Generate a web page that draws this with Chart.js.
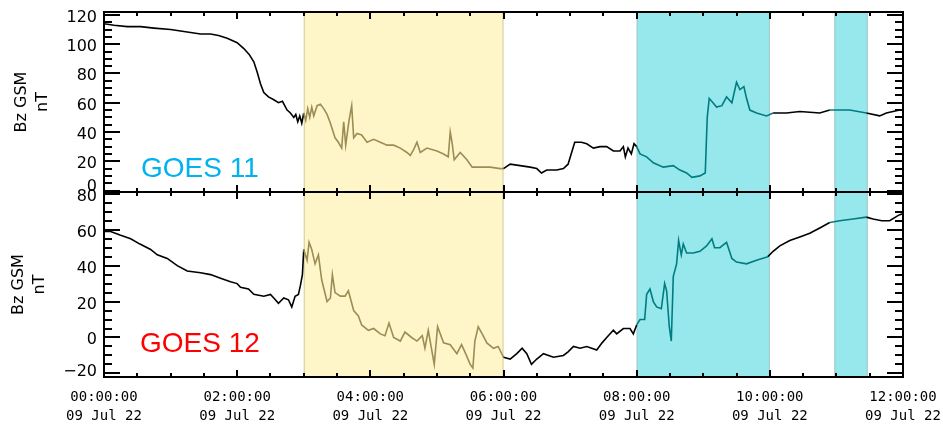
<!DOCTYPE html>
<html>
<head>
<meta charset="utf-8">
<script src="https://cdn.jsdelivr.net/npm/chart.js@4.4.1/dist/chart.umd.min.js"></script>
<style>
  html, body { margin: 0; padding: 0; background: #fff; }
  #wrap { position: relative; width: 943px; height: 426px; overflow: hidden; }
  canvas { position: absolute; left: 0; }
  #c11 { top: 0; }
  #c12 { top: 180px; }
  .sat { position: absolute; font-family: "Liberation Sans", Arial, sans-serif; font-size: 28px; line-height: 28px; white-space: nowrap; }
</style>
</head>
<body>
<div id="wrap">
  <canvas id="c11" width="943" height="200"></canvas>
  <canvas id="c12" width="943" height="246"></canvas>
  <div class="sat" style="left:141px; top:154px; color:#00b2ee;">GOES 11</div>
  <div class="sat" style="left:140px; top:329px; color:#ff0000;">GOES 12</div>
</div>
<script>
// time in hours after 00:00 UT, 09 Jul 22
const g11Time = [0.00, 0.15, 0.35, 0.55, 0.75, 1.00, 1.15, 1.30, 1.45, 1.60, 1.72, 1.85, 2.00, 2.10, 2.18, 2.25, 2.30, 2.35, 2.40, 2.47,
  2.55, 2.62, 2.68, 2.75, 2.80, 2.85, 2.88, 2.91, 2.94, 2.97, 3.00, 3.03, 3.06, 3.09, 3.12, 3.15, 3.20, 3.25, 3.30, 3.35,
  3.40, 3.47, 3.52, 3.57, 3.60, 3.63, 3.68, 3.72, 3.75, 3.80, 3.87, 3.95, 4.05, 4.15, 4.25, 4.35, 4.45, 4.55, 4.60, 4.65,
  4.70, 4.75, 4.85, 5.00, 5.10, 5.17, 5.20, 5.23, 5.26, 5.35, 5.45, 5.53, 5.65, 5.80, 5.95, 6.00, 6.10, 6.25, 6.40, 6.50,
  6.57, 6.65, 6.80, 6.90, 6.97, 7.03, 7.07, 7.17, 7.25, 7.35, 7.45, 7.55, 7.65, 7.75, 7.80, 7.83, 7.87, 7.92, 7.96, 8.00,
  8.05, 8.15, 8.25, 8.40, 8.55, 8.65, 8.75, 8.83, 8.95, 9.03, 9.06, 9.09, 9.20, 9.28, 9.35, 9.43, 9.50, 9.55, 9.61, 9.65,
  9.70, 9.80, 9.95, 10.05, 10.25, 10.45, 10.75, 10.90, 11.20, 11.45, 11.65, 11.75, 11.95, 12.00];
const g11Bz = [114, 113, 112, 112, 111, 110, 109, 108, 107, 107, 106, 104, 101, 97, 93, 88, 81, 73, 67, 64,
  62, 60, 61, 55, 53, 50, 52, 47, 51, 46, 53, 48, 56, 50, 57, 51, 58, 59, 56, 52,
  46, 36, 33, 29, 47, 31, 48, 58, 36, 39, 38, 33, 35, 33, 31, 31, 29, 26, 24, 28,
  33, 26, 29, 27, 25, 23, 40, 32, 21, 26, 21, 16, 16, 16, 15, 15, 18, 17, 16, 15,
  12, 14, 14, 15, 18, 27, 33, 33, 32, 29, 30, 30, 27, 27, 30, 23, 29, 25, 32, 30,
  25, 23, 19, 16, 17, 14, 12, 9, 10, 12, 50, 63, 57, 58, 64, 60, 74, 69, 71, 63,
  55, 53, 51, 53, 53, 54, 53, 55, 55, 53, 51, 53, 55, 55];

const g12Time = [0.00, 0.10, 0.24, 0.40, 0.54, 0.70, 0.80, 0.95, 1.10, 1.25, 1.45, 1.60, 1.75, 1.90, 2.00, 2.05, 2.17, 2.25, 2.40, 2.50,
  2.55, 2.62, 2.70, 2.77, 2.82, 2.87, 2.92, 2.95, 2.98, 3.00, 3.05, 3.08, 3.12, 3.17, 3.22, 3.27, 3.35, 3.40, 3.43, 3.47,
  3.55, 3.62, 3.67, 3.75, 3.82, 3.87, 3.97, 4.05, 4.15, 4.22, 4.28, 4.35, 4.45, 4.52, 4.62, 4.70, 4.78, 4.82, 4.87, 4.96,
  5.01, 5.10, 5.20, 5.30, 5.37, 5.42, 5.50, 5.54, 5.57, 5.62, 5.68, 5.75, 5.85, 5.92, 6.00, 6.10, 6.20, 6.28, 6.35, 6.42,
  6.50, 6.60, 6.75, 6.90, 6.97, 7.05, 7.15, 7.25, 7.40, 7.48, 7.55, 7.65, 7.70, 7.80, 7.90, 7.95, 8.00, 8.05, 8.12, 8.15,
  8.20, 8.25, 8.30, 8.37, 8.42, 8.45, 8.49, 8.52, 8.55, 8.60, 8.63, 8.67, 8.70, 8.75, 8.85, 8.95, 9.05, 9.13, 9.17, 9.25,
  9.35, 9.43, 9.50, 9.65, 9.80, 9.97, 10.05, 10.15, 10.30, 10.45, 10.60, 10.75, 10.90, 11.05, 11.25, 11.45, 11.55, 11.68, 11.80, 11.93,
  12.00];
const g12Bz = [59, 59, 57, 55, 52, 49, 46, 44, 40, 37, 36, 35, 33, 31, 30, 28, 27, 24, 23, 24,
  22, 19, 22, 21, 17, 23, 24, 29, 35, 49, 43, 53, 49, 41, 46, 32, 20, 22, 35, 25,
  23, 23, 26, 15, 12, 7, 4, 5, 2, 1, 8, 0, -2, 3, 0, -2, 1, -6, 4, -15,
  6, -3, -4, -9, -4, -8, -15, -17, -2, 6, 2, -3, -6, -5, -11, -12, -9, -6, -9, -15,
  -12, -9, -11, -10, -8, -5, -6, -5, -7, -3, 0, 4, 2, 5, 5, 2, 7, 10, 10, 24,
  27, 20, 17, 16, 30, 26, 6, -2, 34, 41, 54, 46, 52, 47, 47, 48, 51, 55, 50, 50,
  53, 44, 42, 41, 43, 45, 48, 51, 54, 56, 58, 61, 64, 65, 66, 67, 66, 65, 65, 68,
  69];

// highlighted intervals (hours)
const shadeStart = [3.0, 8.0, 10.97];
const shadeEnd = [6.0, 10.0, 11.47];
const shadeFill = ['#fef6c8', '#96e8ec', '#96e8ec'];
const shadeEdge = ['#d6cc9c', '#a8c6c8', '#a8c6c8'];
const shadeLine = ['#9c8c56', '#007c80', '#007c80'];

const xTickHours = [0, 2, 4, 6, 8, 10, 12];
const dateLabel = '09 Jul 22';

function lineColor(ctx) {
  const mid = (ctx.p0.parsed.x + ctx.p1.parsed.x) / 2;
  for (let i = 0; i < shadeStart.length; i++) {
    if (mid >= shadeStart[i] && mid <= shadeEnd[i]) return shadeLine[i];
  }
  return '#000';
}

const decor = {
  id: 'decor',
  beforeDatasetsDraw(chart) {
    const {ctx, chartArea: a} = chart;
    const xs = chart.scales.x;
    ctx.save();
    shadeStart.forEach((s, i) => {
      const x0 = xs.getPixelForValue(s);
      const x1 = xs.getPixelForValue(shadeEnd[i]);
      ctx.fillStyle = shadeFill[i];
      ctx.fillRect(x0, a.top, x1 - x0, a.bottom - a.top);
      ctx.fillStyle = shadeEdge[i];
      ctx.fillRect(x0, a.top, 1, a.bottom - a.top);
      ctx.fillRect(x1 - 1, a.top, 1, a.bottom - a.top);
    });
    ctx.restore();
  },
  afterDraw(chart, args, opts) {
    const ctx = chart.ctx;
    const a = chart.chartArea;
    const xs = chart.scales.x;
    const ys = chart.scales.y;
    ctx.save();

    ctx.strokeStyle = '#000';
    ctx.lineWidth = 2;
    ctx.strokeRect(a.left, a.top, a.right - a.left, a.bottom - a.top);

    // inward tick marks, IDL style
    const yVals = [];
    for (let v = -20; v <= 120; v += 5) yVals.push(v);
    yVals.forEach(v => {
      if (v < ys.min || v > ys.max) return;
      const py = Math.round(ys.getPixelForValue(v));
      const len = v % 20 === 0 ? 16 : 8;
      ctx.fillStyle = '#000';
      ctx.fillRect(a.left, py - 1, len, 2);
      ctx.fillRect(a.right - len, py - 1, len, 2);
      if (v % 20 === 0) {
        // tick label, kept inside the panel height
        const ly = Math.min(Math.max(py + 3, a.top + 5), a.bottom - 5);
        ctx.font = '16px "DejaVu Sans"';
        ctx.textAlign = 'right';
        ctx.textBaseline = 'middle';
        ctx.fillText(String(v).replace('-', '\u2212'), a.left - 7, ly);
      }
    });
    const xVals = [];
    for (let k = 0; k <= 24; k++) xVals.push(k / 2);
    xVals.forEach(t => {
      const px = Math.round(xs.getPixelForValue(t));
      const len = t % 2 === 0 ? 7 : 4;
      ctx.fillStyle = '#000';
      ctx.fillRect(px - 1, a.top, 2, len);
      ctx.fillRect(px - 1, a.bottom - len, 2, len);
    });

    // y axis title, two rotated lines
    ctx.fillStyle = '#000';
    ctx.translate(opts.titleX, (a.top + a.bottom) / 2);
    ctx.rotate(-Math.PI / 2);
    ctx.font = '16px "DejaVu Sans"';
    ctx.textAlign = 'center';
    ctx.textBaseline = 'middle';
    ctx.fillText('Bz GSM', 0, 0);
    ctx.fillText('nT', 0, opts.unitGap);
    ctx.restore();
  }
};

function makePanel(id, times, values, yMin, yMax, showX, padBottom, titleX, unitGap) {
  return new Chart(document.getElementById(id), {
    type: 'line',
    data: {
      datasets: [{
        data: times.map((t, i) => ({x: t, y: values[i]})),
        borderColor: '#000',
        borderWidth: 1.6,
        pointRadius: 0,
        tension: 0,
        segment: {borderColor: lineColor}
      }]
    },
    options: {
      responsive: false,
      animation: false,
      events: [],
      layout: {padding: {top: 12, right: 40, bottom: padBottom, left: 0}},
      plugins: {
        legend: {display: false},
        tooltip: {enabled: false},
        decor: {titleX: titleX, unitGap: unitGap}
      },
      scales: {
        x: {
          type: 'linear',
          display: showX,
          min: 0,
          max: 12,
          grid: {display: false, drawTicks: false},
          border: {display: false},
          afterBuildTicks: s => { s.ticks = xTickHours.map(v => ({value: v})); },
          afterFit: s => {
            if (showX) s.height = 49;
            s.paddingLeft = 0;
            s.paddingRight = 0;
          },
          ticks: {
            autoSkip: false,
            maxRotation: 0,
            padding: 11,
            color: '#000',
            font: {family: 'DejaVu Sans Mono', size: 14, lineHeight: 1.35},
            callback: v => [String(v).padStart(2, '0') + ':00:00', dateLabel]
          }
        },
        y: {
          min: yMin,
          max: yMax,
          grid: {display: false, drawTicks: false},
          border: {display: false},
          afterFit: s => { s.width = 104; s.paddingTop = 0; s.paddingBottom = 0; },
          ticks: {display: false, stepSize: 20, includeBounds: false}
        }
      }
    },
    plugins: [decor]
  });
}

makePanel('c11', g11Time, g11Bz, -1, 122, false, 8, 21.5, 21);
makePanel('c12', g12Time, g12Bz, -22, 81, true, 0, 18.5, 21);
</script>
</body>
</html>
